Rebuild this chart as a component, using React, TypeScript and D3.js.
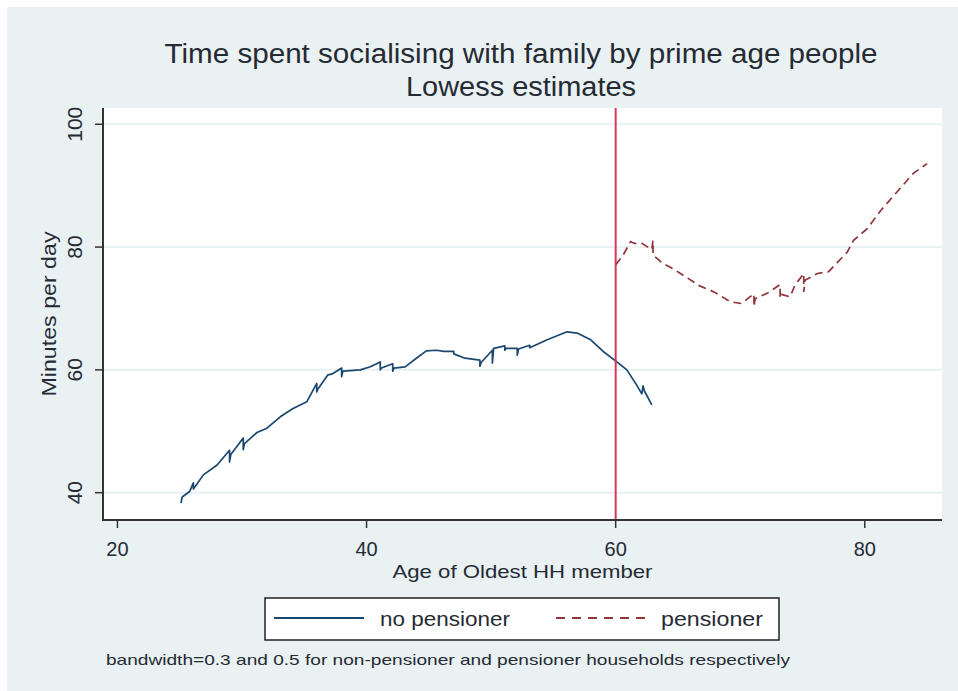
import React from "react";
import * as d3 from "d3";

// Lowess estimates: households without a pensioner
const noPensionerAge = [
  25.1, 25.2, 25.8, 26.1, 26.1, 26.9, 28.0, 29.0, 29.0, 29.1, 30.1, 30.1, 30.2,
  31.2, 32.0, 33.1, 34.1, 35.2, 36.0, 36.0, 36.1, 36.9, 37.2, 38.0, 38.0, 38.1,
  39.5, 40.3, 41.1, 41.1, 41.2, 42.1, 42.1, 42.2, 43.1, 44.0, 44.8, 45.6, 46.2,
  47.0, 47.0, 47.9, 49.1, 49.1, 49.2, 50.1, 50.1, 50.2, 51.1, 51.1, 51.2, 52.1,
  52.1, 52.2, 53.1, 53.1, 54.5, 56.1, 56.9, 58.0, 59.0, 60.1, 60.9, 61.6, 62.1,
  62.2, 62.3, 62.9,
];
const noPensionerMinutes = [
  38.3, 39.3, 40.2, 41.6, 40.6, 42.9, 44.5, 46.9, 45.0, 46.2, 48.9, 47.0, 48.0,
  49.8, 50.5, 52.4, 53.7, 54.8, 57.8, 56.4, 56.9, 59.2, 59.3, 60.3, 58.9, 59.8,
  60.0, 60.5, 61.3, 60.0, 60.3, 61.0, 59.8, 60.3, 60.5, 61.9, 63.1, 63.2, 63.0,
  63.0, 62.6, 61.9, 61.6, 60.6, 61.2, 63.2, 61.1, 63.5, 63.9, 63.2, 63.5, 63.5,
  62.4, 63.4, 64.0, 63.6, 64.9, 66.2, 66.0, 64.9, 63.0, 61.3, 60.0, 57.8, 56.1,
  57.4, 56.6, 54.3,
];

// Lowess estimates: households with a pensioner
const pensionerAge = [
  60.0, 60.6, 61.2, 61.5, 62.1, 62.9, 63.0, 63.0, 63.8, 64.5, 65.2, 66.2, 66.6,
  67.9, 69.2, 70.1, 71.1, 71.1, 71.2, 72.2, 73.2, 73.2, 73.3, 74.0, 74.4, 75.1,
  75.1, 75.2, 76.2, 77.1, 78.6, 79.1, 80.2, 81.3, 82.6, 83.9, 85.0,
];
const pensionerMinutes = [
  77.1, 78.7, 80.9, 80.6, 80.6, 79.6, 81.1, 78.7, 77.3, 76.6, 75.7, 74.4, 73.8,
  72.7, 71.1, 70.8, 72.4, 70.3, 71.6, 72.5, 73.9, 71.7, 72.3, 71.9, 73.8, 75.7,
  72.7, 74.6, 75.7, 76.0, 79.2, 81.1, 83.0, 86.0, 89.0, 92.0, 93.6,
];

const xTicks = [20, 40, 60, 80];
const yTicks = [40, 60, 80, 100];
const cutoffAge = [60];

const titleLines = ["Time spent socialising with family by prime age people", "Lowess estimates"];
const xTitle = "Age of Oldest HH member";
const yTitle = "Minutes per day";
const legendLabels = ["no pensioner", "pensioner"];
const note = "bandwidth=0.3 and 0.5 for non-pensioner and pensioner households respectively";

const W = 958;
const H = 691;
const plot = { left: 103, right: 942, top: 108, bottom: 520 };

const bg = "#E9F1F3";
const navy = "#1A476F";
const maroon = "#90353B";
const cutColor = "#D6365A";
const textColor = "#262a33";
const font = "'Liberation Sans', Arial, sans-serif";

export default function App() {
  const x = d3.scaleLinear().domain([18.84, 86.2]).range([plot.left, plot.right]);
  const y = d3.scaleLinear().domain([35.55, 102.65]).range([plot.bottom, plot.top]);

  const line = d3
    .line<[number, number]>()
    .x((d) => x(d[0]))
    .y((d) => y(d[1]));

  const noPenPts = noPensionerAge.map((a, i) => [a, noPensionerMinutes[i]] as [number, number]);
  const penPts = pensionerAge.map((a, i) => [a, pensionerMinutes[i]] as [number, number]);

  return (
    <div style={{ position: "fixed", left: 0, top: 0, width: W, height: H, background: "#fff" }}>
      <svg width={W} height={H} style={{ display: "block" }}>
        <rect x={7} y={7} width={W - 7} height={H - 7} fill={bg} />

        {/* titles */}
        <text x={521} y={63} textAnchor="middle" fontFamily={font} fontSize={27} fill={textColor}
          textLength={713} lengthAdjust="spacingAndGlyphs">{titleLines[0]}</text>
        <text x={521} y={96} textAnchor="middle" fontFamily={font} fontSize={27} fill={textColor}
          textLength={230} lengthAdjust="spacingAndGlyphs">{titleLines[1]}</text>

        {/* plot region */}
        <rect x={plot.left} y={plot.top} width={plot.right - plot.left} height={plot.bottom - plot.top} fill="#fff" />
        {yTicks.map((t) => (
          <line key={"g" + t} x1={plot.left} x2={plot.right} y1={y(t)} y2={y(t)} stroke={bg} strokeWidth={2} />
        ))}

        {/* series */}
        <path d={line(noPenPts) || ""} fill="none" stroke={navy} strokeWidth={1.7} strokeLinejoin="round" />
        <path d={line(penPts) || ""} fill="none" stroke={maroon} strokeWidth={1.7} strokeDasharray="8 5" />

        {cutoffAge.map((a) => (
          <line key={"c" + a} x1={x(a)} x2={x(a)} y1={plot.top} y2={plot.bottom} stroke={cutColor} strokeWidth={2} />
        ))}

        {/* axes */}
        <line x1={plot.left} x2={plot.left} y1={plot.top} y2={plot.bottom + 1} stroke="#333" strokeWidth={2} />
        <line x1={plot.left - 1} x2={plot.right} y1={plot.bottom} y2={plot.bottom} stroke="#333" strokeWidth={2} />
        {yTicks.map((t) => (
          <g key={"y" + t}>
            <line x1={plot.left - 8} x2={plot.left} y1={y(t)} y2={y(t)} stroke="#333" strokeWidth={1.5} />
            <text transform={`translate(82,${y(t)}) rotate(-90)`} textAnchor="middle" fontFamily={font}
              fontSize={21} fill={textColor}>{t}</text>
          </g>
        ))}
        {xTicks.map((t) => (
          <g key={"x" + t}>
            <line x1={x(t)} x2={x(t)} y1={plot.bottom} y2={plot.bottom + 8} stroke="#333" strokeWidth={1.5} />
            <text x={x(t)} y={556} textAnchor="middle" fontFamily={font} fontSize={20} fill={textColor}>{t}</text>
          </g>
        ))}
        <text x={(plot.left + plot.right) / 2} y={578} textAnchor="middle" fontFamily={font} fontSize={19}
          fill={textColor} textLength={260} lengthAdjust="spacingAndGlyphs">{xTitle}</text>
        <text transform={`translate(56,${(plot.top + plot.bottom) / 2}) rotate(-90)`} textAnchor="middle"
          fontFamily={font} fontSize={21} fill={textColor} textLength={165} lengthAdjust="spacingAndGlyphs">{yTitle}</text>

        {/* legend */}
        <rect x={265} y={598} width={514} height={42} fill="#fff" stroke="#222" strokeWidth={1.5} />
        <line x1={274} x2={364} y1={618} y2={618} stroke={navy} strokeWidth={2} />
        <text x={380} y={626} fontFamily={font} fontSize={21} fill={textColor} textLength={130}
          lengthAdjust="spacingAndGlyphs">{legendLabels[0]}</text>
        <line x1={556} x2={650} y1={618} y2={618} stroke={maroon} strokeWidth={1.8} strokeDasharray="9 7" />
        <text x={661} y={626} fontFamily={font} fontSize={21} fill={textColor} textLength={102}
          lengthAdjust="spacingAndGlyphs">{legendLabels[1]}</text>

        {/* note */}
        <text x={106} y={665} fontFamily={font} fontSize={14.5} fill={textColor} textLength={684}
          lengthAdjust="spacingAndGlyphs">{note}</text>
      </svg>
    </div>
  );
}
